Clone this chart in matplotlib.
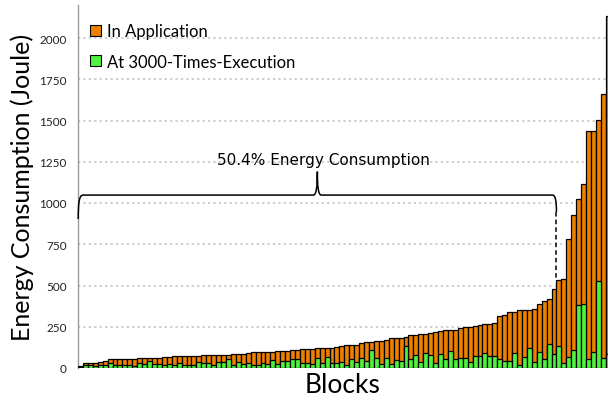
import matplotlib.pyplot as plt
from matplotlib.patches import Patch, PathPatch
from matplotlib.path import Path
import numpy as np

# Energy per block (Joule), sorted ascending
in_app = [14, 28, 28, 30, 38, 44, 52, 52, 52, 52, 52, 52, 62, 62, 62, 62, 62, 69, 69, 75,
          75, 75, 75, 75, 75, 81, 81, 81, 81, 81, 81, 87, 87, 87, 93,
          97, 97, 97, 97, 97, 105, 105, 105, 111, 111, 117, 117, 117, 123, 123,
          123, 123, 129, 135, 141, 141, 141, 153, 159, 159, 165, 165, 171, 183, 183,
          183, 189, 202, 202, 206,
          206, 212, 218, 224, 230, 230, 230, 240, 246, 246, 254, 260, 268, 268, 274,
          315, 321, 339, 339, 353, 353, 353, 358, 385, 407, 421, 479,
          535, 540, 779, 927, 1027, 1116, 1437, 1437, 1506, 1663, 2135]
at_3000 = [4, 18, 18, 12, 20, 18, 30, 18, 18, 18, 18, 14, 30, 24, 44, 24, 24, 18, 24, 18,
           30, 18, 18, 18, 36, 30, 30, 18, 36, 36, 54, 18, 36, 24, 30,
           18, 18, 30, 24, 48, 24, 42, 42, 54, 54, 30, 30, 24, 60, 30,
           66, 30, 30, 36, 18, 54, 36, 60, 42, 111, 60, 24, 60, 24, 48,
           42, 133, 54, 79, 36,
           91, 79, 30, 85, 54, 103, 54, 60, 60, 36, 73, 73, 91, 73, 73,
           54, 42, 42, 91, 19, 68, 124, 37, 98, 57, 148, 82,
           134, 32, 68, 112, 380, 390, 55, 94, 525, 62, 82]
y_ticks = [0, 250, 500, 750, 1000, 1250, 1500, 1750, 2000]
split_idx = 96  # last block inside the 50.4% brace

orange = '#ec8000'
green = '#4ff23e'
font = 'Lato'

fig = plt.figure(figsize=(6.08, 4.06), dpi=100)
ax = fig.add_axes([78 / 608, 37 / 406, 530 / 608, 363 / 406])

x = np.arange(len(in_app))
ax.bar(x, in_app, width=1.0, color=orange, edgecolor='black', linewidth=0.9, zorder=3)
ax.bar(x, at_3000, width=1.0, color=green, edgecolor='black', linewidth=0.9, zorder=4)

ax.set_xlim(-0.5, len(in_app) - 1.05)
ax.set_ylim(0, 2200)
ax.set_yticks(y_ticks)
ax.set_yticklabels([str(v) for v in y_ticks], fontsize=8.5, family=font, color='#222222')
ax.set_xticks([])
ax.tick_params(axis='y', length=0, pad=8)
ax.grid(axis='y', color='#c8c8c8', linestyle=(0, (1.2, 1.8)), linewidth=1.3, zorder=0)

for s in ['top', 'right', 'bottom']:
    ax.spines[s].set_visible(False)
ax.spines['left'].set_color('#999999')
ax.spines['left'].set_linewidth(1.0)

ax.set_xlabel('Blocks', fontsize=19, family=font, labelpad=3)
ax.set_ylabel('Energy Consumption (Joule)', fontsize=18, family=font, labelpad=4)

# curly brace over the first blocks
xl = -0.45
xr = split_idx + 0.5
ym = (xl + xr) / 2
yb = 1048
pts = [(xl, 903), (xl, 1000), (xl + 0.15, yb), (xl + 1.0, yb),
       (ym - 0.8, yb),
       (ym - 0.2, yb), (ym, 1100), (ym, 1190),
       (ym, 1100), (ym + 0.2, yb), (ym + 0.8, yb),
       (xr - 0.8, yb),
       (xr - 0.2, yb), (xr, 1010), (xr, 945)]
codes = [Path.MOVETO, Path.CURVE4, Path.CURVE4, Path.CURVE4,
         Path.LINETO,
         Path.CURVE4, Path.CURVE4, Path.CURVE4,
         Path.CURVE4, Path.CURVE4, Path.CURVE4,
         Path.LINETO,
         Path.CURVE4, Path.CURVE4, Path.CURVE4]
ax.add_patch(PathPatch(Path(pts, codes), facecolor='none', edgecolor='black',
                       linewidth=1.1, zorder=5, clip_on=False))
ax.plot([xr, xr], [945, in_app[split_idx + 1]], color='black', linestyle=(0, (3, 2)),
        linewidth=1.1, zorder=5)
ax.text(ym + 1.3, 1265, '50.4% Energy Consumption', ha='center', va='center',
        fontsize=11, family='DejaVu Sans')

handles = [Patch(facecolor=orange, edgecolor='black', linewidth=0.8),
           Patch(facecolor=green, edgecolor='black', linewidth=0.8)]
ax.legend(handles, ['In Application', 'At 3000-Times-Execution'], loc='upper left',
          bbox_to_anchor=(-0.012, 1.0), frameon=False, prop={'family': font, 'size': 12},
          handlelength=0.65, handleheight=0.65, handletextpad=0.4, labelspacing=0.85,
          borderaxespad=0.7)

fig.savefig('out.png', dpi=100)
